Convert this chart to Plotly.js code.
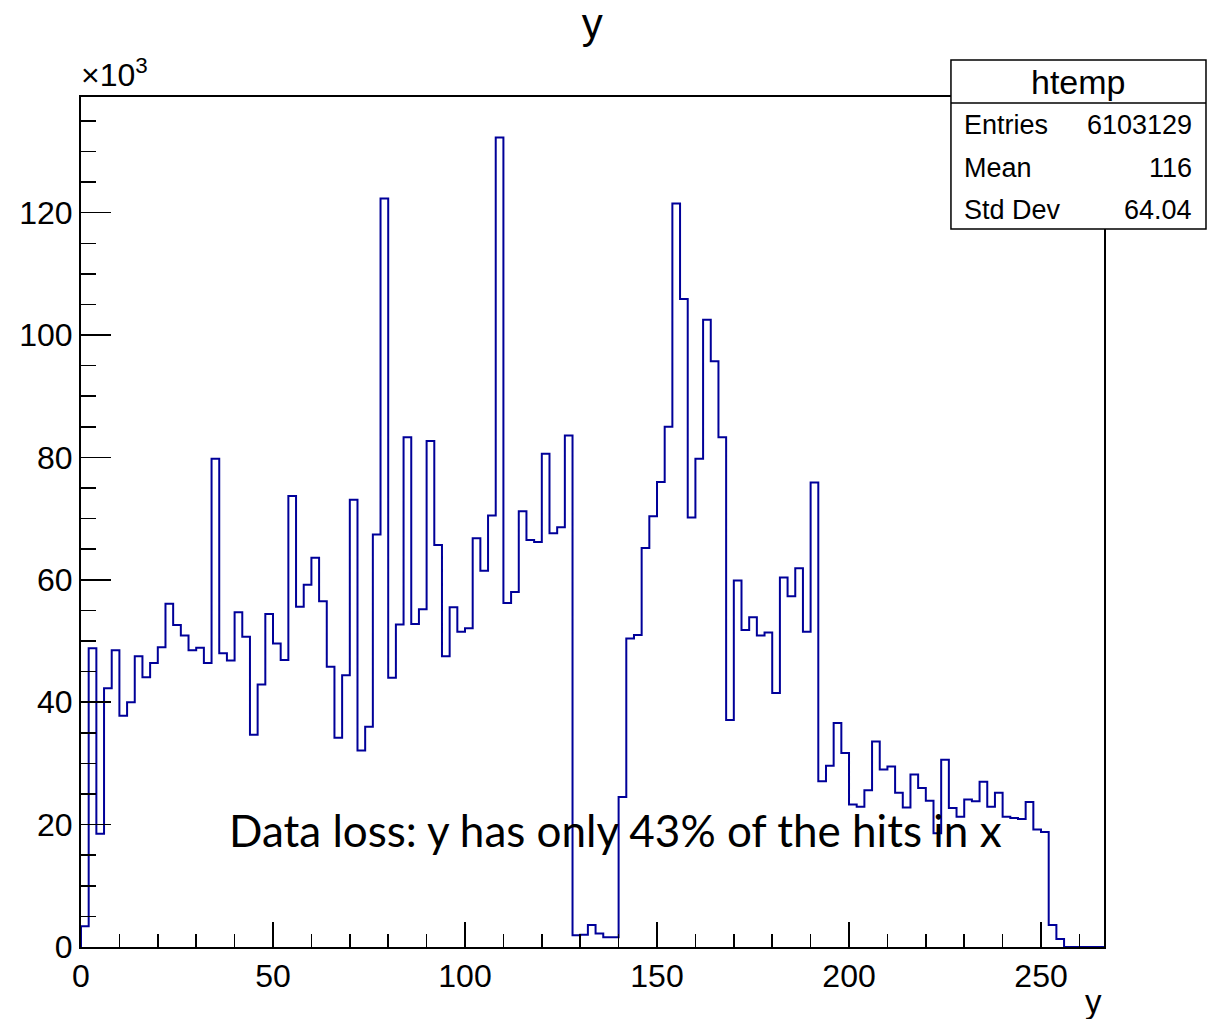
<!DOCTYPE html>
<html>
<head>
<meta charset="utf-8">
<script src="https://cdn.plot.ly/plotly-3.0.1.min.js"></script>
<style>
html,body{margin:0;padding:0;background:#fff;}
#chart{width:1211px;height:1019px;}
</style>
</head>
<body>
<div id="chart"></div>
<script>
// Histogram "htemp" of y: bin width 2, starting at 0 (counts in thousands, axis shows x10^3)
const binLow = 0;
const binWidth = 2;
const countsK = [
  3.4, 48.8, 18.5, 42.3, 48.5, 37.8, 40.0, 47.5, 44.1, 46.4,
  49.0, 56.1, 52.6, 50.9, 48.5, 48.9, 46.4, 79.8, 48.0, 46.8,
  54.7, 50.7, 34.7, 42.9, 54.4, 49.6, 46.9, 73.7, 55.6, 59.2,
  63.6, 56.5, 45.8, 34.2, 44.4, 73.1, 32.1, 36.0, 67.4, 122.3,
  44.0, 52.7, 83.3, 52.8, 55.2, 82.7, 65.7, 47.5, 55.5, 51.5,
  52.1, 66.8, 61.5, 70.5, 132.3, 56.2, 58.0, 71.2, 66.5, 66.2,
  80.6, 67.6, 68.6, 83.6, 1.9, 2.0, 3.6, 2.2, 1.6, 1.6,
  24.5, 50.4, 51.0, 65.2, 70.4, 76.0, 85.0, 121.5, 105.9, 70.2,
  79.8, 102.5, 95.7, 83.3, 37.1, 59.9, 51.8, 53.9, 50.9, 51.4,
  41.5, 60.4, 57.3, 61.9, 51.5, 75.9, 27.1, 29.6, 36.6, 31.7,
  23.3, 22.9, 25.6, 33.6, 29.0, 29.5, 25.2, 22.8, 28.2, 26.0,
  23.9, 18.6, 30.6, 22.7, 21.3, 24.1, 23.8, 27.0, 22.9, 25.2,
  21.3, 21.1, 20.9, 23.7, 19.2, 18.8, 3.6, 1.3
];
const xRange = [0, 266.4];
const yRange = [0, 138.9];
const xTickVals = [0, 50, 100, 150, 200, 250];
const yTickVals = [0, 20, 40, 60, 80, 100, 120];

const histTitle = "htemp";
const statLabels = ["Entries", "Mean", "Std Dev"];
const statValues = ["6103129", "116", "64.04"];
const plotTitle = "y";
const xTitle = "y";
const noteText = "Data loss: y has only 43% of the hits in x";

// Build step outline from bins (ROOT-style histogram outline)
const xs = [binLow];
const ys = [0];
countsK.forEach((c, i) => { xs.push(binLow + i * binWidth); ys.push(c); });
const lastEdge = binLow + countsK.length * binWidth;
xs.push(lastEdge); ys.push(0);
xs.push(xRange[1]); ys.push(0);

const trace = {
  x: xs, y: ys, type: 'scatter', mode: 'lines',
  line: {shape: 'hv', color: '#000099', width: 2},
  hoverinfo: 'skip', showlegend: false, cliponaxis: true
};

const FONT = 'Liberation Sans, Arial, Helvetica, sans-serif';

// stats box geometry in paper coords
const bx0 = 0.8504, bx1 = 1.0997, by0 = 0.8447, by1 = 1.0435, byh = 0.9929;
const rowYs = [0.9671, 0.9165, 0.8671];

const annotations = [
  {xref: 'paper', yref: 'paper', x: -0.002, y: 1.002, xanchor: 'left', yanchor: 'bottom',
   text: '\u00d710<sup>3</sup>', showarrow: false, font: {family: FONT, size: 32, color: '#000'}},
  {xref: 'paper', yref: 'paper', x: 1, y: -0.064, xanchor: 'right', yanchor: 'middle',
   text: xTitle, showarrow: false, font: {family: FONT, size: 33, color: '#000'}},
  {xref: 'paper', yref: 'paper', x: 0.522, y: 0.1376, xanchor: 'center', yanchor: 'middle',
   text: noteText, showarrow: false, font: {family: 'Lato, Open Sans, sans-serif', size: 44, color: '#000'}},
  {xref: 'paper', yref: 'paper', x: (bx0 + bx1) / 2, y: (byh + by1) / 2, xanchor: 'center', yanchor: 'middle',
   text: histTitle, showarrow: false, font: {family: FONT, size: 34, color: '#000'}}
];
statLabels.forEach((lab, i) => {
  annotations.push({xref: 'paper', yref: 'paper', x: bx0 + 0.011, y: rowYs[i], xanchor: 'left', yanchor: 'middle',
    text: lab, showarrow: false, font: {family: FONT, size: 27, color: '#000'}});
  annotations.push({xref: 'paper', yref: 'paper', x: bx1 - 0.012, y: rowYs[i], xanchor: 'right', yanchor: 'middle',
    text: statValues[i], showarrow: false, font: {family: FONT, size: 27, color: '#000'}});
});

const layout = {
  width: 1211, height: 1019,
  paper_bgcolor: '#fff', plot_bgcolor: '#fff',
  margin: {l: 81, r: 107, t: 97, b: 72, pad: 0},
  title: {text: plotTitle, x: 0.489, xanchor: 'center', y: 0.977, yref: 'container', yanchor: 'middle',
          font: {family: FONT, size: 42, color: '#000'}},
  showlegend: false,
  xaxis: {
    range: xRange, tickvals: xTickVals, ticktext: xTickVals.map(String),
    ticks: 'inside', ticklen: 25, tickwidth: 1.5, tickcolor: '#000',
    minor: {dtick: 10, tick0: 0, ticks: 'inside', ticklen: 13, tickwidth: 1.5, tickcolor: '#000', showgrid: false},
    showline: true, linecolor: '#000', linewidth: 2, mirror: true,
    showgrid: false, zeroline: false,
    tickfont: {family: FONT, size: 32, color: '#000'}
  },
  yaxis: {
    range: yRange, tickvals: yTickVals, ticktext: yTickVals.map(String),
    ticks: 'inside', ticklen: 30, tickwidth: 1.5, tickcolor: '#000',
    minor: {dtick: 5, tick0: 0, ticks: 'inside', ticklen: 15, tickwidth: 1.5, tickcolor: '#000', showgrid: false},
    showline: true, linecolor: '#000', linewidth: 2, mirror: true,
    showgrid: false, zeroline: false,
    tickfont: {family: FONT, size: 32, color: '#000'}
  },
  shapes: [
    {type: 'rect', xref: 'paper', yref: 'paper', x0: bx0, x1: bx1, y0: by0, y1: by1,
     line: {color: '#000', width: 1.5}, fillcolor: '#fff', layer: 'above'},
    {type: 'line', xref: 'paper', yref: 'paper', x0: bx0, x1: bx1, y0: byh, y1: byh,
     line: {color: '#000', width: 1.5}, layer: 'above'}
  ],
  annotations: annotations
};

Plotly.newPlot('chart', [trace], layout, {staticPlot: true, displayModeBar: false});
</script>
</body>
</html>
